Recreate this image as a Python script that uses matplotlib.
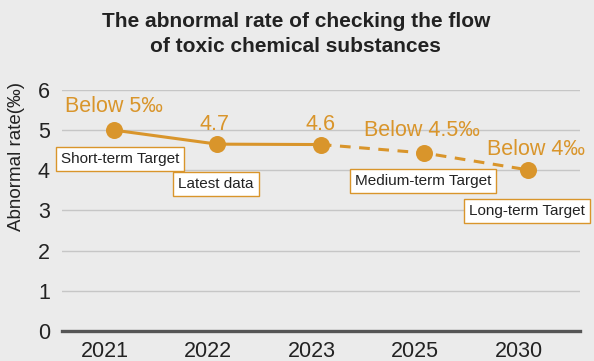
import matplotlib.pyplot as plt
import matplotlib.transforms as mtransforms

plt.rcParams['font.family'] = ['Liberation Sans', 'DejaVu Sans']

years = ["2021", "2022", "2023", "2025", "2030"]
rates = [5.0, 4.65, 4.64, 4.43, 4.01]
value_labels = ["Below 5‰", "4.7", "4.6", "Below 4.5‰", "Below 4‰"]
box_labels = ["Short-term Target", "Latest data", "", "Medium-term Target", "Long-term Target"]

ORANGE = "#d9952b"
BG = "#ebebeb"
TXT = "#222222"

fig = plt.figure(figsize=(5.94, 3.61), dpi=100, facecolor=BG)
ax = fig.add_axes([0.104, 0.083, 0.872, 0.668], facecolor=BG)

x = list(range(len(years)))
ax.plot(x[:3], rates[:3], color=ORANGE, lw=2.2, zorder=3)
ax.plot(x[2:], rates[2:], color=ORANGE, lw=2.2, ls=(0, (3.5, 2.8)), zorder=3)
ax.scatter(x, rates, s=150, color=ORANGE, zorder=4, linewidths=0)

# value labels above points
val_offsets = [(0, 17), (-2, 14.5), (0, 14.5), (-2, 16.5), (6, 15)]
for xi, yi, lab, off in zip(x, rates, value_labels, val_offsets):
    ax.annotate(lab, (xi, yi), xytext=off, textcoords="offset points",
                ha="center", va="center", color=ORANGE, fontsize=15.5)

# boxed captions
box_pos = [(0.065, 4.28), (0.99, 3.66), None, (2.99, 3.73), (3.99, 2.99)]
for lab, pos in zip(box_labels, box_pos):
    if pos is None:
        continue
    ax.text(pos[0], pos[1], lab, ha="center", va="center", fontsize=11,
            color=TXT,
            bbox=dict(boxstyle="square,pad=0.32", fc="white", ec=ORANGE, lw=1))

ax.set_xlim(-0.5, 4.5)
ax.set_ylim(0, 6)
ax.set_yticks(range(0, 7))
ax.set_xticks(x)
ax.set_xticklabels(years)
ax.tick_params(axis="both", length=0, labelsize=15.5, colors=TXT)
ax.tick_params(axis="x", pad=7.5)
ax.tick_params(axis="y", pad=8.5)
shift = mtransforms.ScaledTranslation(-9 / 100, 0, fig.dpi_scale_trans)
for lbl in ax.get_xticklabels():
    lbl.set_transform(lbl.get_transform() + shift)
ax.grid(axis="y", color="#c6c6c6", lw=1)
ax.set_axisbelow(True)
for s in ["top", "right", "left"]:
    ax.spines[s].set_visible(False)
ax.spines["bottom"].set_color("#555555")
ax.spines["bottom"].set_linewidth(2.4)
ax.spines["bottom"].set_zorder(2)

ax.set_ylabel("Abnormal rate(‰)", fontsize=13.5, color=TXT)
ax.yaxis.set_label_coords(-0.071, 0.722)
fig.text(0.498, 0.906, "The abnormal rate of checking the flow\nof toxic chemical substances",
         ha="center", va="center", fontsize=15, fontweight="bold",
         color=TXT, linespacing=1.45)

fig.savefig("out.png", dpi=100, facecolor=BG)
